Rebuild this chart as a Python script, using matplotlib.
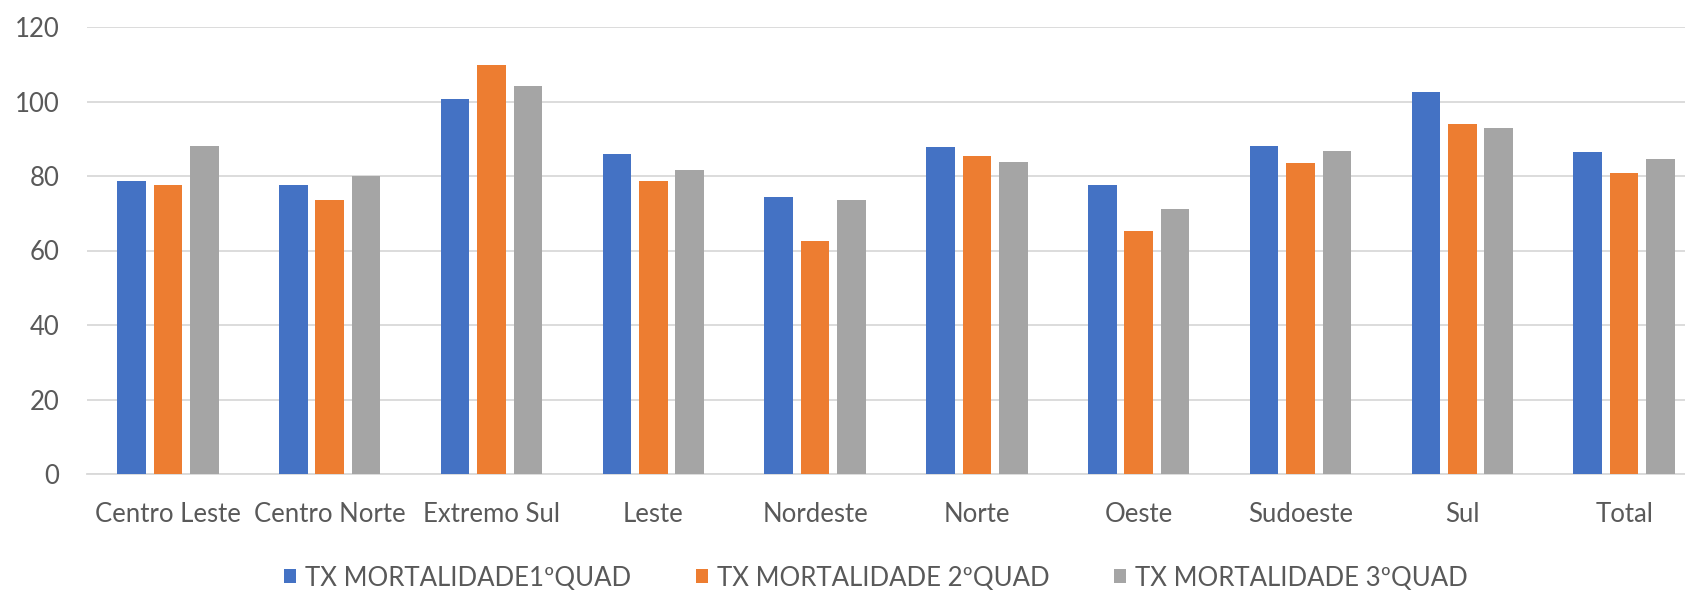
import matplotlib.pyplot as plt
import numpy as np

regioes = ["Centro Leste", "Centro Norte", "Extremo Sul", "Leste", "Nordeste",
           "Norte", "Oeste", "Sudoeste", "Sul", "Total"]
quad1 = [78.6, 77.5, 100.8, 85.9, 74.4, 87.7, 77.5, 88.0, 102.6, 86.4]
quad2 = [77.5, 73.6, 109.8, 78.7, 62.6, 85.5, 65.2, 83.5, 94.0, 80.9]
quad3 = [88.0, 80.0, 104.1, 81.7, 73.6, 83.7, 71.1, 86.8, 92.8, 84.6]
series_names = ["TX MORTALIDADE1ºQUAD", "TX MORTALIDADE 2ºQUAD", "TX MORTALIDADE 3ºQUAD"]
cores = ["#4472C4", "#ED7D31", "#A5A5A5"]

plt.rcParams['font.family'] = ['Lato', 'DejaVu Sans']

fig = plt.figure(figsize=(16.85, 5.9), dpi=100)
# the original chart is cut on the right, so the axes run past the figure edge
ax = fig.add_axes([87 / 1685, 116 / 590, 1618 / 1685, 447 / 590])

x = np.arange(len(regioes))
larg = 0.177
passo = 0.225
for i, (vals, nome, cor) in enumerate(zip([quad1, quad2, quad3], series_names, cores)):
    ax.bar(x + (i - 1) * passo, vals, width=larg, color=cor, label=nome, zorder=3)

ax.set_xlim(-0.5, len(regioes) - 0.5)
ax.set_ylim(0, 120)
ax.set_yticks(range(0, 121, 20))
ax.set_xticks(x)
ax.set_xticklabels(regioes)

ax.grid(axis='y', color='#d9d9d9', linewidth=1.3, zorder=0)
for s in ['top', 'right', 'left']:
    ax.spines[s].set_visible(False)
ax.spines['bottom'].set_color('#d9d9d9')
ax.spines['bottom'].set_linewidth(1.3)
ax.tick_params(axis='both', length=0, labelsize=18.5, colors='#595959')
ax.tick_params(axis='y', pad=20)
ax.tick_params(axis='x', pad=20)

handles, labels = ax.get_legend_handles_labels()
leg = fig.legend(handles, labels, loc='center', bbox_to_anchor=(876 / 1685, 12 / 590),
                 ncol=3, frameon=False, fontsize=18.5, handlelength=0.47, handleheight=0.47,
                 handletextpad=0.35, columnspacing=2.5, borderpad=0)
for t in leg.get_texts():
    t.set_color('#595959')

plt.savefig("out.png", dpi=100)
